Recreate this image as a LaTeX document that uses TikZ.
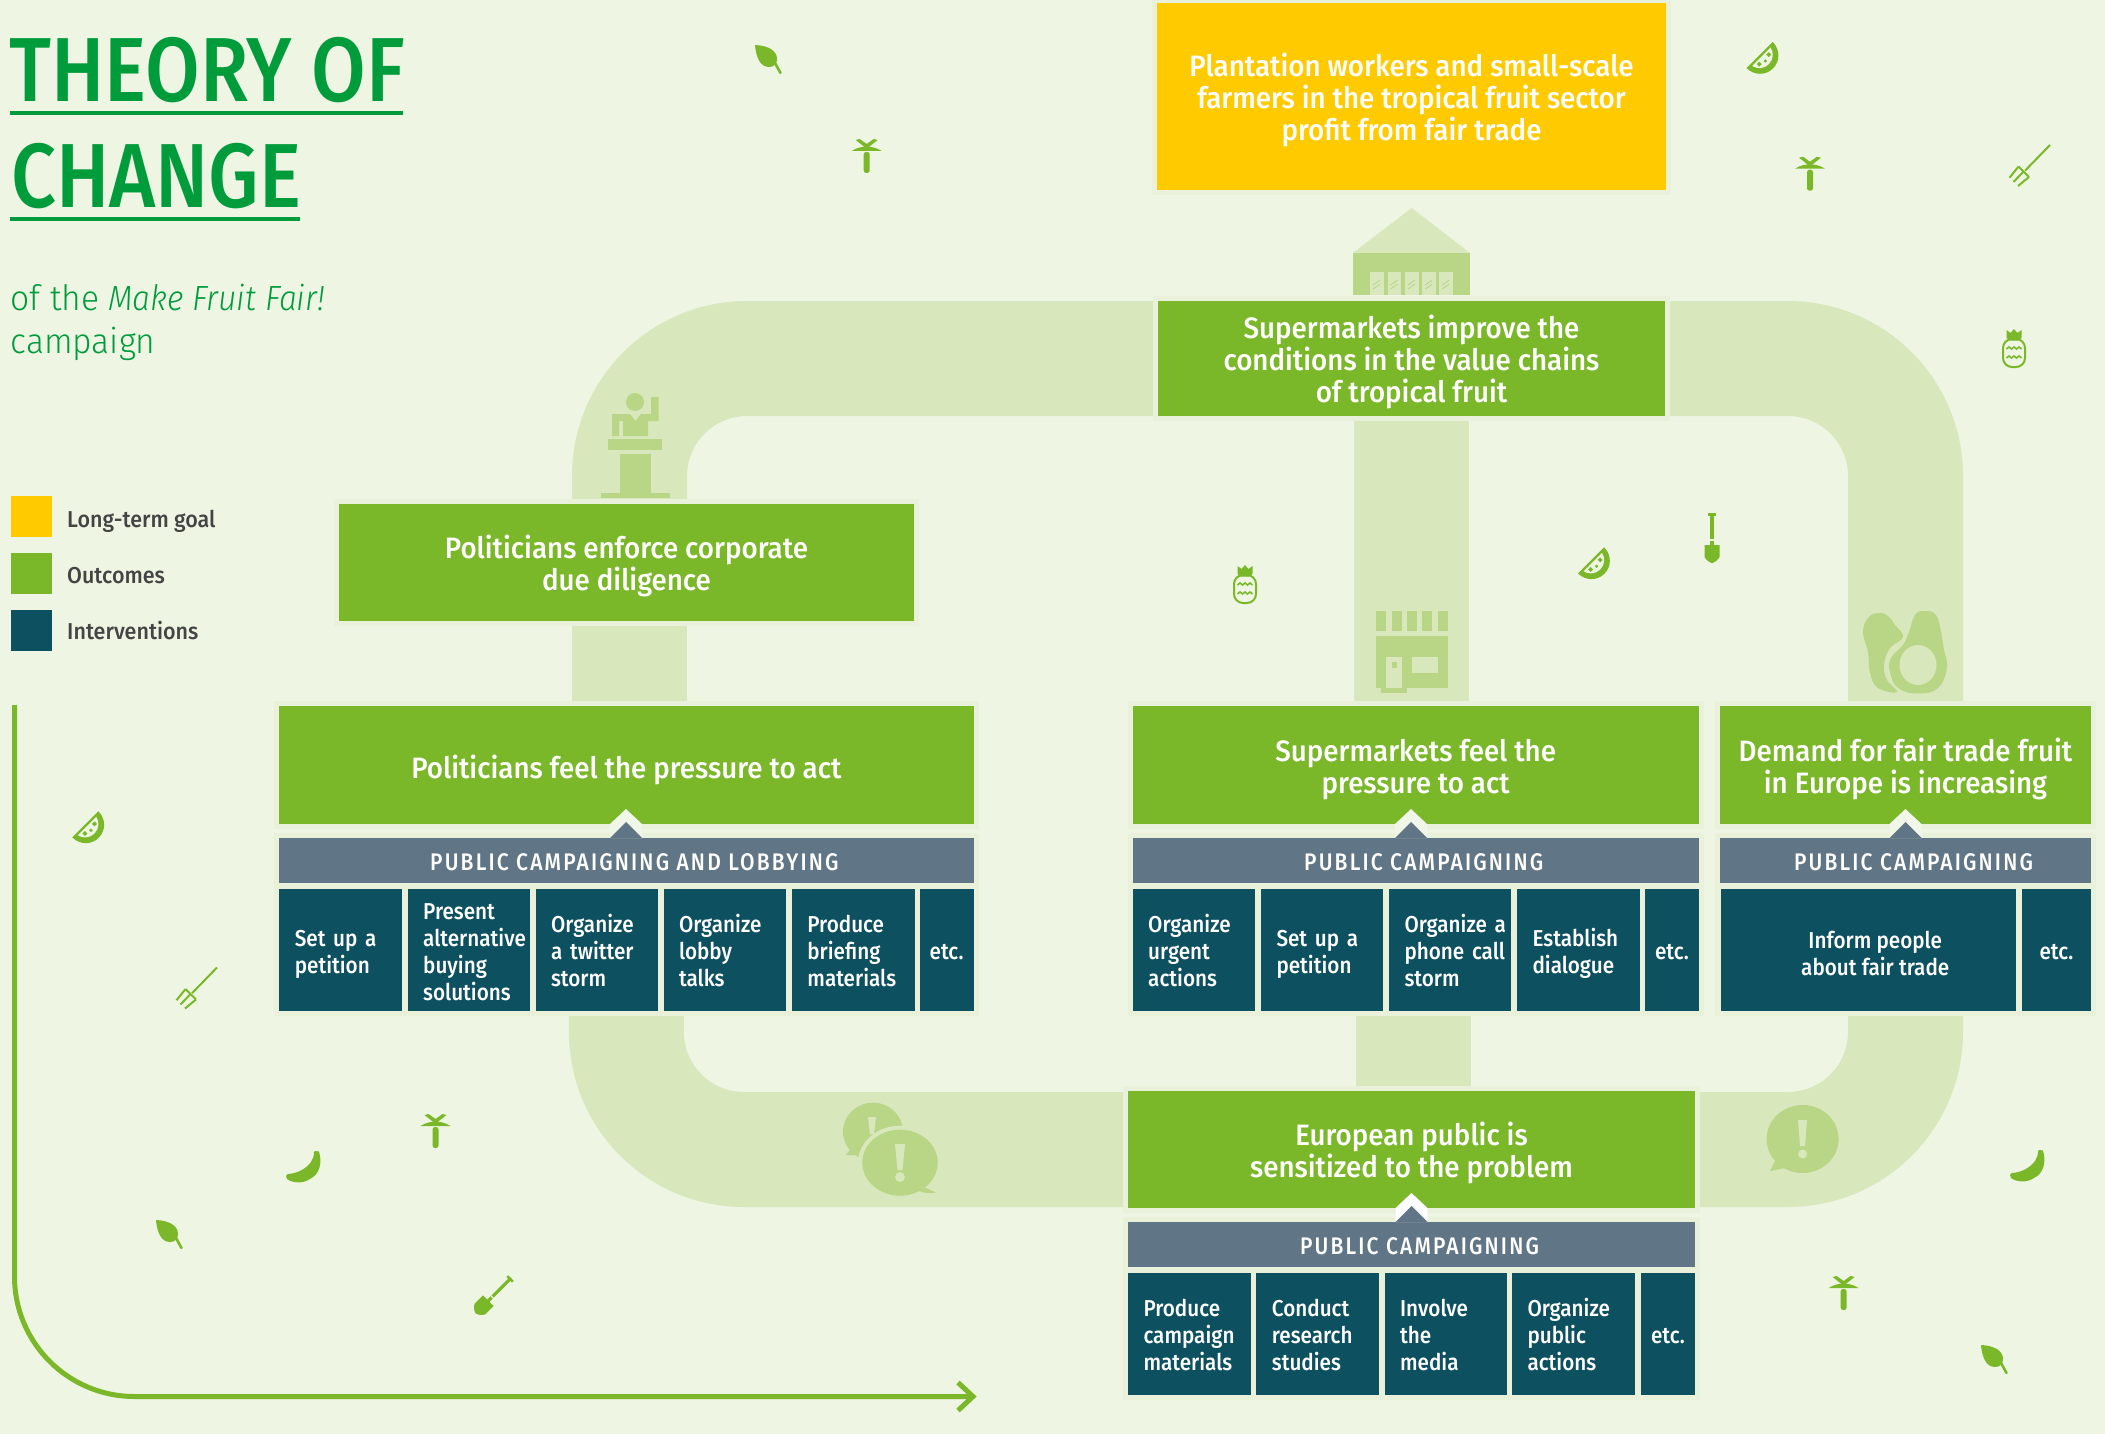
\documentclass[tikz,border=0pt]{standalone}
\usepackage{fontspec}
\setmainfont{Fira Sans}
\newfontfamily\din[FakeStretch=0.94]{Fira Sans Medium}
\newfontfamily\dinact[FakeStretch=0.9]{Fira Sans Medium}
\newfontfamily\dinleg[FakeStretch=0.935]{Fira Sans Medium}
\newfontfamily\dintitle[FakeStretch=0.87]{Fira Sans Medium}
\newfontfamily\dinlight[FakeStretch=0.96,ItalicFeatures={FakeStretch=0.91}]{Fira Sans Light}
\newfontfamily\dinhead[FakeStretch=0.875,LetterSpace=9]{Fira Sans Medium}
\newcommand{\lowerout}{\rule{0pt}{31pt}}
\newcommand{\loweract}{\rule{0pt}{24pt}}
\definecolor{bgc}{HTML}{EEF5E3}
\definecolor{haloc}{HTML}{EAF1DB}
\definecolor{pipec}{HTML}{D8E7BC}
\definecolor{iconc}{HTML}{B8D685}
\definecolor{leafc}{HTML}{7AB829}
\definecolor{tealc}{HTML}{0D5060}
\definecolor{slatec}{HTML}{607585}
\definecolor{goalc}{HTML}{FFCB00}
\definecolor{titlec}{HTML}{009C3C}
\definecolor{legc}{HTML}{444444}
\definecolor{chevc}{HTML}{F1F7E8}
\pgfdeclarelayer{pipes}
\pgfdeclarelayer{halos}
\pgfsetlayers{pipes,halos,main}
\tikzset{
  box/.style n args={4}{at={({(#1+#3)/2},{(#2+#4)/2})},minimum width={(#3-#1)*1pt},minimum height={(#4-#2)*1pt}},
  base/.style={inner sep=0pt,outer sep=0pt,text=white,align=center},
  goal/.style={base,fill=goalc,font=\din\fontsize{29.5}{32}\selectfont},
  outcome/.style={base,fill=leafc,font=\din\fontsize{29.5}{32}\selectfont},
  head/.style={base,fill=slatec,font=\dinhead\fontsize{24}{26}\selectfont,execute at begin node={\rule{0pt}{20pt}}},
  act/.style={base,fill=tealc,font=\dinact\fontsize{23}{27}\selectfont,execute at begin node={\rule{0pt}{20pt}}},
  actl/.style n args={4}{act,box={#1}{#2}{#3}{#4},text width={(#3-#1-31)*1pt},inner xsep=15.5pt,align=left},
  legtxt/.style={inner sep=0pt,anchor=base west,text=legc,font=\dinleg\fontsize{23}{26}\selectfont},
  swatch/.style={inner sep=0pt,minimum size=41pt},
  pipe/.style={draw=pipec,line width=115pt,rounded corners=117.5pt},
  haloarea/.style={fill=haloc},
  ic/.style={fill=leafc,draw=none},
  palm/.pic={
    \fill[ic] (-15,12) .. controls (-10,8.5) and (-3,7.5) .. (0,7.5) .. controls (3,7.5) and (10,8.5) .. (15,12) -- cycle;
    \fill[ic] (-11,1) -- (-7,0) -- (0,5) -- (7,0) -- (11,1) -- (1.5,8.5) -- (-1.5,8.5) -- cycle;
    \fill[ic,rounded corners=2.5pt] (-3,13) rectangle (3,34);
  },
  leaf/.pic={
    \fill[ic] (0,0) .. controls (12,0.5) and (22,5) .. (22,14) .. controls (22,19) and (19,22) .. (14,22) .. controls (5,22) and (1,12) .. (0,0) -- cycle;
    \draw[leafc,line width=2.6pt,line cap=round] (20,18) -- (25.5,28);
  },
  fork/.pic={
    \draw[leafc,line width=2pt] (0,0) -- (-25,25.7);
    \draw[leafc,line width=2pt] (-31.5,21.6) -- (-21,32);
    \draw[leafc,line width=2pt] (-31.5,21.6) -- (-40.5,32.7);
    \draw[leafc,line width=2pt] (-26.5,26.6) -- (-36.5,37);
    \draw[leafc,line width=2pt] (-21,32) -- (-32,41);
  },
  shovel/.pic={
    \fill[ic] (-4,0) rectangle (4,2.5);
    \fill[ic] (-1.6,0) rectangle (1.6,26);
    \fill[ic] (-1.6,27.5) rectangle (1.6,33);
    \fill[ic] (-7.5,32) -- (7.5,32) -- (7.5,44) .. controls (6,47) and (2,50) .. (0,50) .. controls (-2,50) and (-6,47) .. (-7.5,44) -- cycle;
  },
  melon/.pic={
    \fill[ic] (-18.5,-1) .. controls (-18.5,10) and (-10,18) .. (0,18) .. controls (10,18) and (18.5,10) .. (18.5,-1) -- cycle;
    \fill[bgc] (-13,1.5) .. controls (-12,7) and (-7,12) .. (0,12) .. controls (7,12) and (12,7) .. (13,1.5) -- cycle;
    \fill[ic] (-8.5,3.5) rectangle (-5,7);
    \fill[ic] (-1.5,6) rectangle (1,8.5);
    \fill[ic] (5,3.5) rectangle (8.5,7);
  },
  banana/.pic={
    \fill[ic] (-1,0) -- (3,0.5) -- (3.8,4) .. controls (5.5,12) and (4,23) .. (-6,28) .. controls (-13,33) and (-24,32) .. (-29,28) .. controls (-31,26) and (-30,23) .. (-28,23) .. controls (-20,22.5) and (-11,19) .. (-5,11) .. controls (-3,8) and (-2,5) .. (-2,1) -- cycle;
  },
  pineapple/.pic={
    \fill[ic] (-7.5,-23) -- (-3.5,-20) -- (0,-24) -- (3.5,-20) -- (7.5,-23) -- (7.5,-15) -- (4,-12.5) -- (-4,-12.5) -- (-7.5,-15) -- cycle;
    \draw[leafc,line width=2pt,rounded corners=9pt] (-11,-14) rectangle (11,14);
    \draw[leafc,line width=1.6pt] (-7.5,-4) -- (-5,-6) -- (-2.5,-4) -- (0,-6) -- (2.5,-4) -- (5,-6) -- (7.5,-4);
    \draw[leafc,line width=1.6pt] (-7.5,5) -- (-5,3) -- (-2.5,5) -- (0,3) -- (2.5,5) -- (5,3) -- (7.5,5);
  },
}
\begin{document}
\begin{tikzpicture}[x=1pt,y=-1pt]
\useasboundingbox (0,0) rectangle (2105,1434);
\begin{pgfonlayer}{pipes}
\fill[bgc] (0,0) rectangle (2105,1434);
\end{pgfonlayer}

% title
\node[inner sep=0pt,anchor=base west,text=titlec,font=\dintitle\fontsize{91}{100}\selectfont] (t1) at (9,101.5) {THEORY OF};
\node[inner sep=0pt,anchor=base west,text=titlec,font=\dintitle\fontsize{91}{100}\selectfont] (t2) at (11,208) {CHANGE};
\fill[titlec] (9.5,111) rectangle (403,115);
\fill[titlec] (9.5,217.5) rectangle (300,221.5);
\node[inner sep=0pt,anchor=base west,text=titlec,font=\dinlight\fontsize{35}{44}\selectfont] (s1) at (10.5,310) {of the \textit{Make Fruit Fair!}};
\node[inner sep=0pt,anchor=base west,text=titlec,font=\dinlight\fontsize{35}{44}\selectfont] (s2) at (10.5,353.5) {campaign};

% legend
\node[swatch,fill=goalc,anchor=north west] (l1) at (11,496) {};
\node[swatch,fill=leafc,anchor=north west] (l2) at (11,553) {};
\node[swatch,fill=tealc,anchor=north west] (l3) at (11,610) {};
\node[legtxt] (lt1) at (67,527.7) {Long-term goal};
\node[legtxt] (lt2) at (67,583.5) {Outcomes};
\node[legtxt] (lt3) at (67,639) {Interventions};

% outcomes
\node[goal,box={1157}{3}{1666}{190}] (goal) {\lowerout Plantation workers and small-scale\\farmers in the tropical fruit sector\\profit from fair trade};
\node[outcome,box={1158}{301}{1665}{416}] (sup) {\lowerout Supermarkets improve the\\conditions in the value chains\\of tropical fruit};
\node[outcome,box={339}{504}{914}{621}] (enf) {\lowerout Politicians enforce corporate\\due diligence};
\node[outcome,box={279.3}{706}{973.5}{824}] (pfeel) {\rule{0pt}{33pt}Politicians feel the pressure to act};
\node[outcome,box={1132.5}{706}{1698.9}{824}] (sfeel) {\lowerout Supermarkets feel the\\pressure to act};
\node[outcome,box={1720}{706}{2091}{824}] (dem) {\lowerout Demand for fair trade fruit\\in Europe is increasing};
\node[outcome,box={1128}{1091}{1695}{1208}] (eur) {\lowerout European public is\\sensitized to the problem};

% campaign headers
\node[head,box={279.3}{838}{973.5}{883}] (h1) {\hspace*{16pt}PUBLIC CAMPAIGNING AND LOBBYING};
\node[head,box={1132.5}{838}{1698.9}{883}] (h2) {\hspace*{16pt}PUBLIC CAMPAIGNING};
\node[head,box={1720}{838}{2091}{883}] (h3) {\hspace*{16pt}PUBLIC CAMPAIGNING};
\node[head,box={1128}{1222}{1695}{1267}] (h4) {\hspace*{16pt}PUBLIC CAMPAIGNING};

% interventions: politicians
\node[actl={279.3}{889}{402}{1011}] (a1) {\loweract Set up a\\petition};
\node[actl={407.7}{889}{530}{1011}] (a2) {Present\\\mbox{alternative}\\buying\\solutions};
\node[actl={535.6}{889}{657.8}{1011}] (a3) {Organize\\a twitter\\storm};
\node[actl={663.5}{889}{786}{1011}] (a4) {Organize\\lobby\\talks};
\node[actl={791.9}{889}{914.5}{1011}] (a5) {Produce\\briefing\\materials};
\node[act,box={919.7}{889}{973.5}{1011}] (a6) {etc.};
% interventions: supermarkets
\node[actl={1132.7}{889}{1255}{1011}] (b1) {Organize\\urgent\\actions};
\node[actl={1261}{889}{1383}{1011}] (b2) {\loweract Set up a\\petition};
\node[actl={1389}{889}{1511}{1011}] (b3) {\mbox{Organize a}\\\mbox{phone call}\\storm};
\node[actl={1517}{889}{1640}{1011}] (b4) {\loweract Establish\\dialogue};
\node[act,box={1645}{889}{1699}{1011}] (b5) {etc.};
% interventions: demand
\node[act,box={1720.5}{889}{2016}{1011}] (c1) {\loweract\hspace*{14pt}Inform people\\\hspace*{14pt}about fair trade};
\node[act,box={2022}{889}{2091}{1011}] (c2) {etc.};
% interventions: public
\node[actl={1128}{1273}{1251}{1395}] (d1) {Produce\\campaign\\materials};
\node[actl={1256.4}{1273}{1379}{1395}] (d2) {Conduct\\research\\studies};
\node[actl={1384.6}{1273}{1507}{1395}] (d3) {Involve\\the\\media};
\node[actl={1512}{1273}{1635}{1395}] (d4) {Organize\\public\\actions};
\node[act,box={1641}{1273}{1695}{1395}] (d5) {etc.};

% pipes
\coordinate (pa) at (629.5,0);
\begin{pgfonlayer}{pipes}
\draw[pipe] (enf.north -| pa) |- (sup.west);
\draw[pipe] (sup.east) -| (dem.north);
\draw[pipe] (sup.south) -- (sup.south |- sfeel.north);
\draw[pipe] (pfeel.north -| pa) -- (enf.south -| pa);
\draw[pipe] (a3.south -| pfeel.south) |- (eur.west);
\draw[pipe] (c2.south -| dem.south) |- (eur.east);
\draw[pipe] ([xshift=1.5pt]eur.north) -- ([xshift=1.5pt]eur.north |- b3.south);
\end{pgfonlayer}
% halos
\begin{pgfonlayer}{halos}
\foreach \p/\q in {goal/goal,sup/sup,enf/enf,pfeel/pfeel,sfeel/sfeel,dem/dem,eur/eur,h1/a6,h2/b5,h3/c2,h4/d5}{
  \fill[haloarea] ([shift={(-5pt,5pt)}]\p.north west) rectangle ([shift={(5pt,-5pt)}]\q.south east);
}
\end{pgfonlayer}

% chevrons from each campaign to its outcome
\foreach \cx/\hd/\col in {626/h1/chevc,1411/h2/chevc,1905.5/h3/chevc,1411.5/h4/white}{
  \path (\hd.north) coordinate (hn);
  \fill[\col] (\cx,0 |- hn) ++(-16,-14) -- ++(16,-15) -- ++(16,15) -- ++(0,14) -- ++(-32,0) -- cycle;
  \fill[slatec] (\cx,0 |- hn) ++(-16,0) -- ++(16,-16) -- ++(16,16) -- cycle;
}

% pipe icons: podium
\fill[iconc] (635,402) circle (9pt);
\fill[iconc] (651,397) -- (658.5,397) -- (658.5,421) -- (648,421) -- (648,436) -- (623,436) -- (623,421) -- (619,421) -- (619,436) -- (612,436) -- (612,414) -- (630,414) -- (635.5,421) -- (641,414) -- (651,414) -- cycle;
\fill[iconc] (608,439) rectangle (662,450);
\fill[iconc] (620,454) rectangle (651,493);
\fill[iconc] (601,493) rectangle (670,498);
% pipe icons: warehouse
\fill[pipec] (1411.7,208) -- (1470,253) -- (1352.7,253) -- cycle;
\fill[iconc] (1352.7,253) rectangle (1470,295);
\foreach \wx in {1370,1387.6,1405,1422.3,1439.3}{
  \fill[pipec] (\wx,271.7) rectangle ++(13.6,23.3);
  \draw[iconc,line width=0.8pt] (\wx+3,285) -- ++(7,-5) (\wx+3,289) -- ++(7,-5);
}
% pipe icons: store
\foreach \sx in {1376,1391.5,1407,1422,1438}{ \fill[iconc] (\sx,611) rectangle ++(10.2,20.4); }
\fill[iconc] (1376,636.4) rectangle (1448,687.5);
\fill[pipec] (1386,657) rectangle (1402,687.5);
\fill[iconc] (1391.5,662) rectangle (1397,667.5);
\fill[pipec] (1412,657) rectangle (1438,672.5);
\fill[iconc] (1381,687.5) rectangle (1407,693);
% pipe icons: avocado
\fill[iconc] plot[smooth cycle,tension=0.7] coordinates {(1878,613) (1868,618) (1863,632) (1868,652) (1870,673) (1878,688) (1897,692) (1887,680) (1884,665) (1890,648) (1903,637) (1895,625) (1888,616)};
\fill[iconc] plot[smooth cycle,tension=0.7] coordinates {(1925,611) (1915,615) (1909,632) (1903,645) (1891,658) (1890,672) (1898,688) (1918,693.5) (1938,688) (1947,668) (1944,650) (1941,632) (1936,615)};
\fill[pipec] (1918,665) ellipse [x radius=18.5pt,y radius=20pt];
% pipe icons: speech bubbles
\fill[iconc] (873,1131.7) ellipse [x radius=30pt,y radius=29pt];
\fill[iconc] (852,1147) -- (856,1155) -- (846,1155) -- cycle;
\fill[pipec] (868,1117) -- (876,1117) -- (874,1134) -- (870,1134) -- cycle;
\fill[pipec] (900,1162.7) ellipse [x radius=42pt,y radius=37pt];
\fill[iconc] (900,1162.7) ellipse [x radius=37.7pt,y radius=33pt];
\fill[iconc] (920,1185) -- (936,1192.7) -- (926,1193) -- (915,1190) -- cycle;
\fill[pipec] (895,1144) -- (905,1144) -- (902.5,1170) -- (897.5,1170) -- cycle;
\fill[pipec] (900,1177) circle (5pt);
\fill[iconc] (1802.6,1139) ellipse [x radius=36pt,y radius=34pt];
\fill[iconc] (1778,1155) -- (1785,1168) -- (1770,1171) -- cycle;
\fill[pipec] (1798,1120) -- (1807,1120) -- (1805,1146) -- (1800,1146) -- cycle;
\fill[pipec] (1802.6,1154) circle (4.5pt);

% scattered field icons
\pic at (755,45) {leaf};
\pic at (156,1220) {leaf};
\pic at (1981,1345) {leaf};
\pic at (866.7,139) {palm};
\pic at (1810,156.7) {palm};
\pic at (435.5,1114) {palm};
\pic at (1843.6,1276) {palm};
\pic at (2050,145) {fork};
\pic at (217,967.5) {fork};
\pic at (1712,513) {shovel};
\pic[rotate=-45] at (511,1278) {shovel};
\pic[rotate=45] at (1760.3,55.7) {melon};
\pic[rotate=45] at (86,825) {melon};
\pic[rotate=45] at (1591.7,561) {melon};
\pic at (316,1151) {banana};
\pic at (2040,1150) {banana};
\pic at (2014,353) {pineapple};
\pic at (1245,589) {pineapple};

% timeline arrow
\coordinate (as) at (14.5,705);
\coordinate (ae) at (973,1396.5);
\draw[leafc,line width=5pt,rounded corners=120pt] (as) |- (ae);
\draw[leafc,line width=5pt] ([shift={(-15pt,14pt)}]ae) -- (ae) -- ([shift={(-15pt,-14pt)}]ae);
\end{tikzpicture}
\end{document}
